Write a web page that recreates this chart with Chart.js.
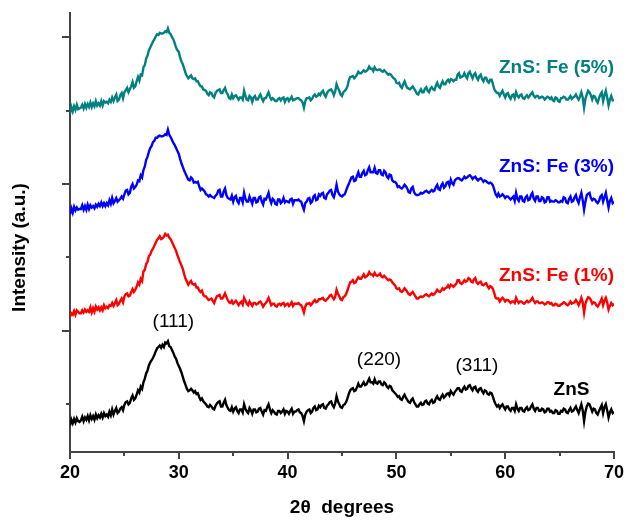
<!DOCTYPE html>
<html>
<head>
<meta charset="utf-8">
<title>XRD patterns of ZnS and Fe-doped ZnS</title>
<script src="https://cdn.jsdelivr.net/npm/chart.js@4.4.1/dist/chart.umd.min.js"></script>
<style>
  html, body { margin: 0; padding: 0; background: #ffffff; }
  canvas { display: block; }
</style>
</head>
<body>
<canvas id="xrd" width="627" height="522" style="width:627px;height:522px"></canvas>
<script>
// Scan angles (2θ, degrees), one row per degree
const twoTheta = [
  20,20.125,20.25,20.375,20.5,20.625,20.75,20.875,
  21,21.125,21.25,21.375,21.5,21.625,21.75,21.875,
  22,22.125,22.25,22.375,22.5,22.625,22.75,22.875,
  23,23.125,23.25,23.375,23.5,23.625,23.75,23.875,
  24,24.125,24.25,24.375,24.5,24.625,24.75,24.875,
  25,25.125,25.25,25.375,25.5,25.625,25.75,25.875,
  26,26.125,26.25,26.375,26.5,26.625,26.75,26.875,
  27,27.125,27.25,27.375,27.5,27.625,27.75,27.875,
  28,28.125,28.25,28.375,28.5,28.625,28.75,28.875,
  29,29.125,29.25,29.375,29.5,29.625,29.75,29.875,
  30,30.125,30.25,30.375,30.5,30.625,30.75,30.875,
  31,31.125,31.25,31.375,31.5,31.625,31.75,31.875,
  32,32.125,32.25,32.375,32.5,32.625,32.75,32.875,
  33,33.125,33.25,33.375,33.5,33.625,33.75,33.875,
  34,34.125,34.25,34.375,34.5,34.625,34.75,34.875,
  35,35.125,35.25,35.375,35.5,35.625,35.75,35.875,
  36,36.125,36.25,36.375,36.5,36.625,36.75,36.875,
  37,37.125,37.25,37.375,37.5,37.625,37.75,37.875,
  38,38.125,38.25,38.375,38.5,38.625,38.75,38.875,
  39,39.125,39.25,39.375,39.5,39.625,39.75,39.875,
  40,40.125,40.25,40.375,40.5,40.625,40.75,40.875,
  41,41.125,41.25,41.375,41.5,41.625,41.75,41.875,
  42,42.125,42.25,42.375,42.5,42.625,42.75,42.875,
  43,43.125,43.25,43.375,43.5,43.625,43.75,43.875,
  44,44.125,44.25,44.375,44.5,44.625,44.75,44.875,
  45,45.125,45.25,45.375,45.5,45.625,45.75,45.875,
  46,46.125,46.25,46.375,46.5,46.625,46.75,46.875,
  47,47.125,47.25,47.375,47.5,47.625,47.75,47.875,
  48,48.125,48.25,48.375,48.5,48.625,48.75,48.875,
  49,49.125,49.25,49.375,49.5,49.625,49.75,49.875,
  50,50.125,50.25,50.375,50.5,50.625,50.75,50.875,
  51,51.125,51.25,51.375,51.5,51.625,51.75,51.875,
  52,52.125,52.25,52.375,52.5,52.625,52.75,52.875,
  53,53.125,53.25,53.375,53.5,53.625,53.75,53.875,
  54,54.125,54.25,54.375,54.5,54.625,54.75,54.875,
  55,55.125,55.25,55.375,55.5,55.625,55.75,55.875,
  56,56.125,56.25,56.375,56.5,56.625,56.75,56.875,
  57,57.125,57.25,57.375,57.5,57.625,57.75,57.875,
  58,58.125,58.25,58.375,58.5,58.625,58.75,58.875,
  59,59.125,59.25,59.375,59.5,59.625,59.75,59.875,
  60,60.125,60.25,60.375,60.5,60.625,60.75,60.875,
  61,61.125,61.25,61.375,61.5,61.625,61.75,61.875,
  62,62.125,62.25,62.375,62.5,62.625,62.75,62.875,
  63,63.125,63.25,63.375,63.5,63.625,63.75,63.875,
  64,64.125,64.25,64.375,64.5,64.625,64.75,64.875,
  65,65.125,65.25,65.375,65.5,65.625,65.75,65.875,
  66,66.125,66.25,66.375,66.5,66.625,66.75,66.875,
  67,67.125,67.25,67.375,67.5,67.625,67.75,67.875,
  68,68.125,68.25,68.375,68.5,68.625,68.75,68.875,
  69,69.125,69.25,69.375,69.5,69.625,69.75,69.875,
  70
];

// Measured intensities (a.u.), one array per sample, one row per degree
const intensityZnS = [
  71,79,74,80,75,81,77,76,
  78,83,77,82,79,84,78,85,
  80,84,79,86,81,85,82,87,
  82,88,84,86,83,90,85,93,
  86,91,95,88,90,94,96,92,
  99,103,104,100,102,108,112,106,
  108,113,119,116,124,121,130,135,
  142,146,153,157,160,163,167,172,
  176,178,180,177,181,178,184,183,
  186,179,178,174,170,165,162,156,
  152,148,143,137,131,126,121,118,
  119,121,119,116,118,114,115,110,
  106,108,104,102,100,97,96,99,
  97,94,93,98,101,103,104,97,
  97,102,106,99,95,92,91,96,
  90,94,96,91,88,93,93,89,
  100,94,90,88,95,92,87,93,
  93,89,90,94,95,90,86,92,
  91,96,100,93,88,92,90,87,
  86,91,91,88,90,93,87,91,
  90,87,91,94,87,90,90,92,
  93,89,88,84,77,86,90,92,
  93,88,90,95,97,92,93,98,
  96,99,100,95,94,98,100,103,
  104,99,96,101,111,104,100,96,
  95,99,100,103,108,114,119,121,
  122,118,119,123,128,124,124,127,
  130,126,127,131,135,130,130,128,
  134,129,128,131,131,127,126,130,
  128,124,122,125,124,119,117,115,
  113,110,111,107,106,110,113,109,
  106,103,102,106,108,103,100,97,
  97,100,102,99,100,104,105,101,
  100,104,106,102,103,108,111,107,
  106,110,113,109,111,114,115,112,
  118,115,113,117,119,122,122,118,
  117,121,124,120,121,125,126,122,
  119,123,124,119,117,121,122,118,
  115,119,118,114,113,116,115,110,
  104,100,97,99,95,98,100,96,
  93,97,97,93,91,95,95,91,
  100,94,91,95,95,91,90,94,
  96,92,93,97,100,94,91,95,
  95,91,91,94,93,89,90,94,
  94,90,91,88,88,92,91,87,
  87,91,90,94,93,89,88,92,
  95,90,91,94,97,92,88,94,
  100,92,77,90,97,101,100,95,
  90,94,93,88,86,91,95,99,
  88,96,100,92,82,89,93,88,
  90
];
const intensityFe1 = [
  73,78,76,81,76,82,80,78,
  78,82,79,83,80,82,80,86,
  79,85,80,87,83,86,82,86,
  82,89,85,87,85,89,88,92,
  88,92,96,89,91,95,98,93,
  101,104,105,101,102,107,111,107,
  110,114,120,117,125,122,135,137,
  145,148,156,158,163,166,170,174,
  178,180,183,179,180,182,186,184,
  185,181,179,175,171,167,163,157,
  152,147,143,138,131,125,121,117,
  120,122,118,117,118,113,113,109,
  107,109,103,101,101,98,96,97,
  98,95,92,97,101,102,103,98,
  98,101,105,100,96,93,92,95,
  91,93,95,92,89,92,94,90,
  99,95,91,89,94,91,88,92,
  92,90,91,93,94,91,87,90,
  92,95,99,94,89,91,91,88,
  87,90,91,89,91,92,88,90,
  91,88,90,93,88,91,91,91,
  92,90,89,85,79,87,91,91,
  92,89,91,94,96,93,94,97,
  97,98,99,96,95,97,99,102,
  103,100,97,100,110,105,101,97,
  96,100,101,104,109,115,120,121,
  123,119,120,124,127,125,125,128,
  131,127,128,130,134,131,131,129,
  133,130,129,130,132,128,127,129,
  127,125,123,124,123,120,118,116,
  112,111,112,108,107,109,112,110,
  107,104,103,105,107,104,101,98,
  98,100,101,100,101,103,104,102,
  101,103,105,103,104,107,110,108,
  107,109,112,110,112,113,116,113,
  117,116,114,116,118,123,123,119,
  118,120,123,121,122,126,125,121,
  120,124,126,120,118,120,121,117,
  116,118,119,115,112,115,114,111,
  105,99,98,98,94,97,99,97,
  94,96,96,94,92,94,94,92,
  99,95,92,94,94,92,91,93,
  95,93,94,96,99,95,92,94,
  94,92,92,93,92,90,91,93,
  93,91,92,89,89,91,90,88,
  88,90,91,93,92,90,89,91,
  94,91,92,93,96,93,89,93,
  99,93,79,91,96,100,99,96,
  91,93,92,89,87,90,94,98,
  89,95,99,93,83,88,92,89,
  91
];
const intensityFe3 = [
  72,80,74,82,77,81,78,79,
  79,84,78,83,78,85,79,84,
  81,83,80,85,82,86,83,88,
  83,87,83,87,84,91,86,94,
  87,90,94,89,91,93,96,93,
  99,104,105,99,101,109,113,107,
  109,112,118,117,125,122,132,137,
  146,150,157,162,165,170,172,176,
  176,178,179,178,178,179,181,180,
  187,180,177,173,169,166,162,158,
  154,147,141,136,131,127,123,119,
  118,122,120,115,116,115,116,110,
  105,107,105,103,99,98,96,98,
  96,95,94,97,99,104,105,96,
  96,103,107,98,94,93,92,97,
  89,95,97,90,87,94,94,88,
  101,93,89,89,96,91,86,94,
  94,88,89,95,96,89,85,93,
  92,96,101,92,87,93,91,86,
  85,92,92,87,89,94,88,90,
  89,88,92,93,86,91,91,91,
  92,90,89,83,78,87,89,93,
  94,87,89,96,98,91,92,99,
  97,100,101,94,93,99,101,104,
  105,98,95,102,112,103,99,97,
  96,98,99,104,109,113,118,122,
  123,117,118,124,129,123,123,128,
  131,125,126,132,136,129,129,129,
  135,128,127,132,132,126,125,131,
  129,123,121,126,125,118,116,116,
  114,109,110,108,107,109,112,110,
  107,102,101,107,109,102,99,98,
  98,99,101,100,101,103,104,102,
  101,103,105,103,104,109,112,106,
  105,111,114,108,110,115,116,111,
  119,114,112,118,120,121,121,119,
  118,120,123,121,122,124,125,123,
  120,122,123,120,118,120,121,119,
  116,118,117,115,114,115,114,111,
  105,99,96,100,96,97,99,97,
  94,96,96,94,92,94,96,90,
  101,93,90,96,96,90,89,95,
  97,91,92,98,101,93,90,96,
  96,90,90,95,94,88,89,95,
  95,89,90,89,89,91,90,88,
  88,90,89,95,94,88,87,93,
  96,89,90,95,98,91,87,95,
  101,91,78,89,98,100,101,94,
  91,93,92,89,87,90,96,98,
  89,95,101,91,81,90,94,87,
  89
];
const intensityFe5 = [
  70,79,73,80,75,82,76,77,
  78,82,77,83,78,83,79,85,
  79,84,80,87,81,84,81,87,
  81,87,85,86,84,89,86,92,
  87,92,96,87,89,95,98,91,
  99,102,105,99,103,107,113,105,
  107,114,120,115,123,122,133,136,
  145,149,156,160,164,168,171,175,
  178,177,180,179,179,180,182,181,
  186,180,178,174,171,166,160,156,
  154,146,141,137,131,125,121,118,
  120,122,118,117,118,114,114,110,
  107,107,103,102,101,97,95,99,
  98,94,92,98,101,102,103,98,
  98,102,105,99,96,91,90,96,
  91,94,95,92,89,92,92,89,
  101,94,89,88,94,92,86,92,
  94,89,89,93,96,91,87,91,
  91,95,99,93,89,91,89,87,
  87,90,91,88,91,92,86,90,
  91,87,90,93,88,89,90,91,
  91,89,88,85,78,87,91,91,
  92,88,90,94,96,93,94,97,
  95,99,101,96,93,98,101,102,
  103,100,95,100,110,105,101,96,
  94,99,101,103,107,115,120,120,
  121,118,120,123,127,125,125,127,
  129,127,128,130,134,131,131,128,
  133,130,129,130,130,128,127,129,
  127,125,123,124,123,120,118,117,
  112,111,112,107,105,110,114,109,
  105,104,103,105,107,104,101,97,
  96,100,103,99,99,104,106,101,
  99,104,106,103,102,108,112,107,
  105,110,114,110,110,114,116,113,
  117,116,114,116,116,123,125,119,
  120,121,125,121,118,125,127,122,
  118,123,125,119,116,121,123,117,
  114,119,119,114,112,116,116,110,
  103,100,98,98,94,98,101,96,
  92,97,98,93,90,95,96,91,
  99,94,92,95,96,91,90,93,
  95,92,94,97,99,94,92,94,
  94,91,92,93,92,89,91,93,
  92,90,92,88,87,92,91,87,
  86,91,91,93,92,89,89,91,
  94,90,92,93,96,92,89,93,
  99,92,78,90,96,101,99,95,
  89,94,93,88,85,91,96,99,
  87,95,101,92,81,89,94,88,
  89
];

// Vertical offsets used to stack the patterns (a.u.)
const stackOffsets = [0, 146, 287, 426];

const sampleNames = ['ZnS', 'ZnS: Fe (1%)', 'ZnS: Fe (3%)', 'ZnS: Fe (5%)'];
const sampleColors = ['#000000', '#ff0000', '#0000ff', '#008080'];
const sampleIntensities = [intensityZnS, intensityFe1, intensityFe3, intensityFe5];

// Miller indices of the cubic ZnS reflections
const peakIndices = ['(111)', '(220)', '(311)'];
const peakAngles = [29.5, 48.4, 57.4];

// Axis ticks
const xMajorTicks = [20, 30, 40, 50, 60, 70];
const xMinorTicks = [25, 35, 45, 55, 65];
const yMajorTicks = [200, 400, 600];
const yMinorTicks = [100, 300, 500];

const FONT = "'Liberation Sans', Arial, Helvetica, sans-serif";
const AXIS_COLOR = '#444444';

// Where each sample name and Miller index sits (data coordinates)
const nameAnchors = [
  { x: 66.1, y: 120, align: 'center' },
  { x: 70, y: 275, align: 'right' },
  { x: 70, y: 423, align: 'right' },
  { x: 70, y: 558, align: 'right' }
];
const indexLabelHeights = [213, 160, 152];

const datasets = sampleIntensities.map((values, s) => ({
  label: sampleNames[s],
  data: twoTheta.map((t, i) => ({ x: t, y: values[i] + stackOffsets[s] })),
  borderColor: sampleColors[s],
  borderWidth: 2.4,
  pointRadius: 0,
  tension: 0,
  fill: false
}));

// Short minor tick marks on both axes
const minorTickPlugin = {
  id: 'minorTicks',
  afterDraw(chart) {
    const { ctx, chartArea, scales: { x, y } } = chart;
    ctx.save();
    ctx.strokeStyle = AXIS_COLOR;
    ctx.lineWidth = 2;
    ctx.beginPath();
    xMinorTicks.forEach(v => {
      const px = Math.round(x.getPixelForValue(v));
      ctx.moveTo(px, chartArea.bottom);
      ctx.lineTo(px, chartArea.bottom + 4);
    });
    yMinorTicks.forEach(v => {
      const py = Math.round(y.getPixelForValue(v));
      ctx.moveTo(chartArea.left, py);
      ctx.lineTo(chartArea.left - 4, py);
    });
    ctx.stroke();
    ctx.restore();
  }
};

// Sample names, Miller indices and the vertical axis title
const annotationPlugin = {
  id: 'xrdLabels',
  afterDraw(chart) {
    const { ctx, chartArea, scales: { x, y } } = chart;
    ctx.save();
    ctx.textBaseline = 'middle';

    ctx.font = 'bold 19px ' + FONT;
    sampleNames.forEach((name, s) => {
      const a = nameAnchors[s];
      ctx.fillStyle = sampleColors[s];
      ctx.textAlign = a.align;
      ctx.fillText(name, x.getPixelForValue(a.x), y.getPixelForValue(a.y));
    });

    ctx.font = '19px ' + FONT;
    ctx.fillStyle = '#000000';
    ctx.textAlign = 'center';
    peakIndices.forEach((label, k) => {
      ctx.fillText(label, x.getPixelForValue(peakAngles[k]), y.getPixelForValue(indexLabelHeights[k]));
    });

    ctx.translate(20, (chartArea.top + chartArea.bottom) / 2 + 15);
    ctx.rotate(-Math.PI / 2);
    ctx.font = 'bold 19px ' + FONT;
    ctx.fillText('Intensity (a.u.)', 0, 0);
    ctx.restore();
  }
};

new Chart(document.getElementById('xrd').getContext('2d'), {
  type: 'line',
  data: { datasets },
  options: {
    responsive: false,
    animation: false,
    devicePixelRatio: 1,
    layout: { padding: { left: 0, right: 11, top: 13, bottom: 0 } },
    plugins: { legend: { display: false }, tooltip: { enabled: false } },
    scales: {
      x: {
        type: 'linear',
        min: 20,
        max: 70,
        afterBuildTicks: s => { s.ticks = xMajorTicks.map(v => ({ value: v })); },
        afterFit: s => { s.height = 70; },
        border: { display: true, color: AXIS_COLOR, width: 2 },
        grid: { drawOnChartArea: false, drawTicks: true, tickLength: 7, tickWidth: 2, tickColor: AXIS_COLOR, lineWidth: 2, color: AXIS_COLOR },
        ticks: { color: '#000000', font: { family: FONT, size: 18, weight: 'bold' }, padding: 3, autoSkip: false, maxRotation: 0 },
        title: { display: true, text: '2θ  degrees', color: '#000000', font: { family: FONT, size: 19, weight: 'bold' }, padding: { top: 0, bottom: 3 } }
      },
      y: {
        type: 'linear',
        min: 35,
        max: 633,
        afterBuildTicks: s => { s.ticks = yMajorTicks.map(v => ({ value: v })); },
        afterFit: s => { s.width = 70; },
        border: { display: true, color: AXIS_COLOR, width: 2 },
        grid: { drawOnChartArea: false, drawTicks: true, tickLength: 8, tickWidth: 2, tickColor: AXIS_COLOR, lineWidth: 2, color: AXIS_COLOR },
        ticks: { display: false }
      }
    }
  },
  plugins: [minorTickPlugin, annotationPlugin]
});
</script>
</body>
</html>
